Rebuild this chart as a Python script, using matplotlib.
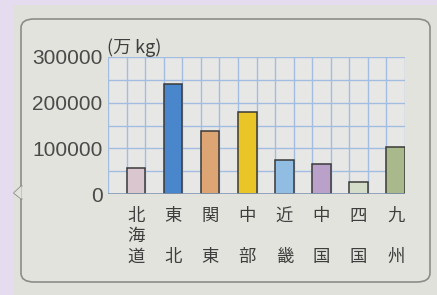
import matplotlib
matplotlib.use("Agg")
import matplotlib.pyplot as plt
from matplotlib.patches import Rectangle, FancyBboxPatch, Polygon
from matplotlib.lines import Line2D

regions = ["北\n海\n道", "東\n\u3000\n北", "関\n\u3000\n東", "中\n\u3000\n部",
           "近\n\u3000\n畿", "中\n\u3000\n国", "四\n\u3000\n国", "九\n\u3000\n州"]
values = [57000, 240000, 138000, 180000, 75000, 65000, 27000, 102000]
colors = ["#d9c6cf", "#4a86cb", "#dda474", "#e9c527", "#92bde2", "#b9a1c9", "#d3ddca", "#a9b98b"]
yticks = [0, 100000, 200000, 300000]
ytick_labels = ["0", "100000", "200000", "300000"]
unit_label = "(万 kg)"

W, H = 437, 295
fig = plt.figure(figsize=(W / 100, H / 100), dpi=100)
fig.patch.set_facecolor("#e6dcef")

# photo area
fig.patches.append(Rectangle((13 / W, 0), 1, 1 - 5 / H, transform=fig.transFigure,
                             facecolor="#e1e1db", edgecolor="none", zorder=-3))
# rounded frame
fig.patches.append(FancyBboxPatch((21 / W, 1 - 282 / H), (430 - 21) / W, (282 - 19) / H,
                                  boxstyle="round,pad=0,rounding_size=0.03",
                                  transform=fig.transFigure, facecolor="#e3e3dd",
                                  edgecolor="#8c8c8a", linewidth=1.2, zorder=-2))
# speech-bubble notch on the left edge
notch = [(21.6 / W, 1 - 186 / H), (14 / W, 1 - 193 / H), (21.6 / W, 1 - 199 / H)]
fig.patches.append(Polygon(notch, closed=False, transform=fig.transFigure,
                           facecolor="#e3e3dd", edgecolor="none", zorder=-1))
fig.lines.append(Line2D([p[0] for p in notch], [p[1] for p in notch],
                        transform=fig.transFigure, color="#8c8c8a", linewidth=1.2, zorder=-1))

ax = fig.add_axes([108 / W, 1 - 194 / H, (405 - 108) / W, (194 - 57) / H])
ax.set_facecolor("#e7e8e5")
n = len(values)
xs = [2 * i + 1.5 for i in range(n)]
ax.bar(xs, values, width=1.0, color=colors, edgecolor="#3a3a3a", linewidth=1.1, zorder=3)
ax.set_xlim(0, 2 * n)
ax.set_ylim(0, 300000)
ax.set_xticks(range(0, 2 * n + 1), minor=True)
ax.set_yticks(range(0, 300001, 50000), minor=True)
ax.xaxis.grid(which="minor", color="#a2bde0", linewidth=1.0)
ax.yaxis.grid(which="both", color="#a2bde0", linewidth=1.0)
ax.set_axisbelow(True)
for s in ax.spines.values():
    s.set_visible(False)
ax.axhline(0, color="#8599b4", linewidth=1.2, zorder=4)
ax.set_yticks(yticks)
ax.set_yticklabels(ytick_labels, fontsize=15, color="#4a4a4a", family=["Liberation Sans", "DejaVu Sans"])
ax.set_xticks(xs)
ax.set_xticklabels(regions, fontsize=12.5, color="#3e3e3e",
                   family=["Noto Sans CJK JP", "DejaVu Sans"], linespacing=1.2)
ax.tick_params(axis="both", which="both", length=0)
ax.tick_params(axis="y", pad=4)
ax.tick_params(axis="x", pad=9)
ax.text(-0.005, 1.0, unit_label, transform=ax.transAxes, fontsize=13, color="#3e3e3e",
        ha="left", va="bottom", family=["Noto Sans CJK JP", "DejaVu Sans"])

fig.savefig("out.png", dpi=100, facecolor=fig.get_facecolor())
